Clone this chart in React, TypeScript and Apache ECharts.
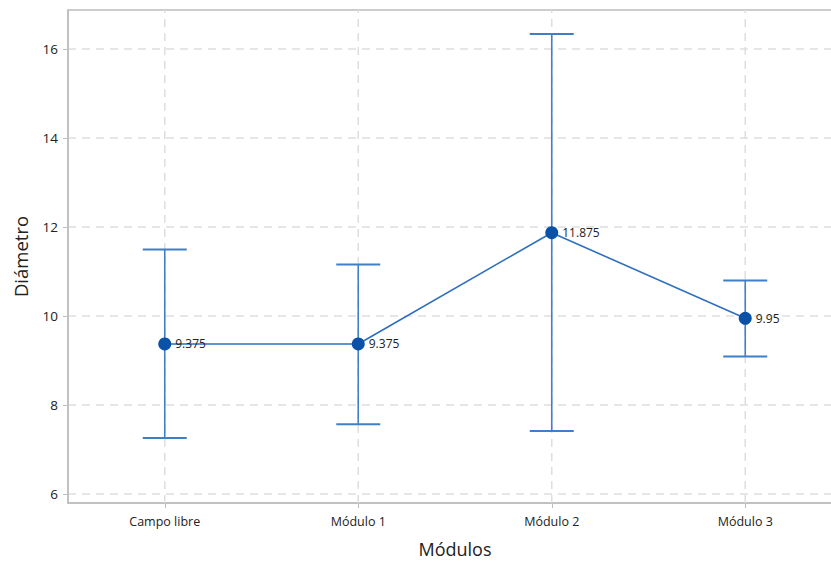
import React, { useEffect, useRef } from "react";
import * as echarts from "echarts";

const categories = ["Campo libre", "Módulo 1", "Módulo 2", "Módulo 3"];
const means = [9.375, 9.375, 11.875, 9.95];
const upper = [11.5, 11.16, 16.34, 10.8];
const lower = [7.26, 7.57, 7.42, 9.09];
const yTicks = [6, 8, 10, 12, 14, 16];
const Y_MIN = 5.8;
const Y_MAX = 16.88;

const FONT = "'Open Sans', 'Noto Sans', sans-serif";

export default function App() {
  const ref = useRef<HTMLDivElement>(null);
  useEffect(() => {
    if (!ref.current) return;
    const chart = echarts.init(ref.current, null, { renderer: "svg" });
    const errData = categories.map((_, i) => [i, lower[i], upper[i]]);
    const gridData = categories.map((_, i) => [i, Y_MIN, Y_MAX]);
    chart.setOption({
      animation: false,
      backgroundColor: "#ffffff",
      grid: {
        left: 68,
        top: 10,
        bottom: 61,
        right: -11,
        show: true,
        borderColor: "#bdbdbd",
        borderWidth: 1.5,
        containLabel: false,
        outerBoundsMode: "none",
      },
      xAxis: {
        type: "category",
        data: categories,
        boundaryGap: true,
        name: "Módulos",
        nameLocation: "middle",
        nameGap: 37,
        nameTextStyle: { fontSize: 18, color: "#222", fontFamily: FONT },
        axisLine: { show: true, lineStyle: { color: "#bdbdbd", width: 1.5 } },
        axisTick: { show: true, alignWithLabel: true, length: 5, lineStyle: { color: "#bdbdbd" } },
        axisLabel: { fontSize: 12.5, color: "#222", margin: 12, fontFamily: FONT },
        splitLine: { show: false },
      },
      yAxis: {
        type: "value",
        min: Y_MIN,
        max: Y_MAX,
        name: "Diámetro",
        nameLocation: "middle",
        nameGap: 38,
        nameTextStyle: { fontSize: 18.5, color: "#222", fontFamily: FONT },
        axisLine: { show: true, lineStyle: { color: "#bdbdbd", width: 1.5 } },
        axisTick: { show: true, length: 5, lineStyle: { color: "#bdbdbd" }, customValues: yTicks },
        axisLabel: { fontSize: 13.5, color: "#222", margin: 10, fontFamily: FONT, customValues: yTicks },
        splitLine: { show: true, lineStyle: { color: "#dedede", type: [8, 6], width: 1.5 } },
      },
      series: [
        {
          type: "custom",
          data: gridData,
          z: 1,
          silent: true,
          renderItem: (params: any, api: any) => {
            const x = api.value(0);
            const a = api.coord([x, api.value(1)]);
            const b = api.coord([x, api.value(2)]);
            return {
              type: "line",
              shape: { x1: a[0], y1: a[1], x2: b[0], y2: b[1] },
              style: { stroke: "#dedede", lineWidth: 1.5, lineDash: [8, 6] },
            };
          },
        },
        {
          type: "custom",
          data: errData,
          z: 2,
          renderItem: (params: any, api: any) => {
            const x = api.value(0);
            const lo = api.coord([x, api.value(1)]);
            const hi = api.coord([x, api.value(2)]);
            const hw = 22;
            const style = { stroke: "#3f7fc6", lineWidth: 1.6 };
            return {
              type: "group",
              children: [
                { type: "line", shape: { x1: hi[0], y1: hi[1], x2: lo[0], y2: lo[1] }, style },
                { type: "line", shape: { x1: hi[0] - hw, y1: hi[1], x2: hi[0] + hw, y2: hi[1] }, style: { ...style, lineWidth: 2 } },
                { type: "line", shape: { x1: lo[0] - hw, y1: lo[1], x2: lo[0] + hw, y2: lo[1] }, style: { ...style, lineWidth: 2 } },
              ],
            };
          },
        },
        {
          type: "line",
          data: means,
          z: 3,
          symbol: "circle",
          symbolSize: 13,
          lineStyle: { color: "#2e6fbf", width: 1.6 },
          itemStyle: { color: "#0a52a8" },
          label: {
            show: true,
            position: "right",
            distance: 4,
            fontSize: 12,
            color: "#222",
            fontFamily: FONT,
          },
        },
      ],
    });
    return () => chart.dispose();
  }, []);
  return (
    <div
      ref={ref}
      style={{ position: "fixed", left: 0, top: 0, width: 831, height: 564 }}
    />
  );
}
